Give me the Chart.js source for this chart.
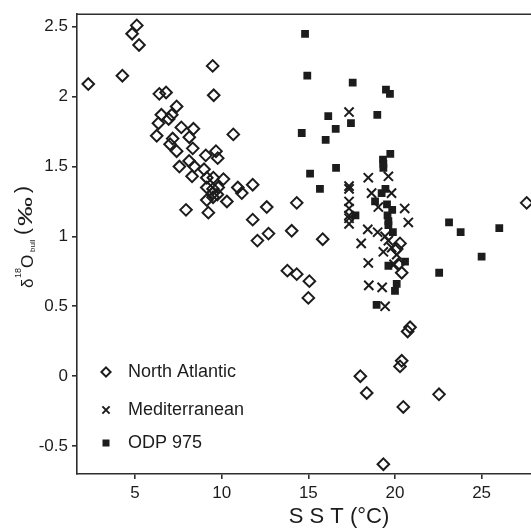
<!DOCTYPE html>
<html>
<head>
<meta charset="utf-8">
<script src="https://cdn.jsdelivr.net/npm/chart.js@4/dist/chart.umd.min.js"></script>
<style>
  html, body { margin: 0; padding: 0; background: #fff; }
  canvas { display: block; }
</style>
</head>
<body>
<canvas id="sst" width="531" height="529"></canvas>
<script>
// SST (°C) vs δ18O of bulk carbonate (‰)
const naSST = [2.3, 4.27, 5.1, 4.83, 5.23, 9.48, 9.54, 6.4, 6.79, 6.52, 6.35, 7.4, 7.12, 6.94, 6.25,
  7.67, 8.37, 8.13, 7.17, 7.02, 7.4, 8.33, 7.56, 8.12, 8.29, 8.42, 8.98, 9.08, 9.67, 9.77,
  9.14, 9.52, 10.1, 9.14, 9.5, 9.8, 9.5, 9.75, 9.14, 9.5, 10.3, 7.94, 9.23, 10.67, 10.93,
  11.16, 11.79, 11.79, 12.06, 12.6, 12.7, 14.33, 14.04, 15.83, 27.6, 20.29, 20.1, 20.39, 20.19,
  13.79, 14.33, 15.06, 15.0, 20.87, 20.73, 20.39, 20.29, 18.0, 18.37, 22.54, 20.48, 19.33];
const naD18O = [2.09, 2.15, 2.51, 2.45, 2.37, 2.22, 2.01, 2.02, 2.03, 1.87, 1.81, 1.93, 1.87, 1.84, 1.72,
  1.78, 1.77, 1.71, 1.70, 1.66, 1.61, 1.63, 1.50, 1.54, 1.43, 1.50, 1.48, 1.58, 1.61, 1.56,
  1.42, 1.42, 1.41, 1.35, 1.34, 1.35, 1.31, 1.30, 1.26, 1.28, 1.25, 1.19, 1.17, 1.73, 1.35,
  1.31, 1.37, 1.12, 0.97, 1.21, 1.02, 1.24, 1.04, 0.98, 1.24, 0.95, 0.91, 0.74, 0.80,
  0.755, 0.73, 0.68, 0.56, 0.35, 0.32, 0.11, 0.07, 0.0, -0.12, -0.13, -0.22, -0.63];

const medSST = [17.35, 18.46, 19.62, 17.35, 17.35, 18.65, 19.8, 17.35, 17.35, 17.35, 17.35, 17.35,
  19.04, 20.56, 20.77, 18.43, 19.0, 19.43, 19.62, 18.05, 19.81, 19.33, 20.1, 18.46, 19.95,
  18.49, 19.26, 19.43];
const medD18O = [1.89, 1.42, 1.43, 1.36, 1.34, 1.31, 1.31, 1.25, 1.20, 1.15, 1.13, 1.09,
  1.21, 1.20, 1.10, 1.05, 1.03, 1.00, 0.97, 0.95, 0.92, 0.89, 0.87, 0.81, 0.80,
  0.65, 0.635, 0.50];

const odpSST = [14.81, 14.94, 17.56, 19.48, 19.71, 16.15, 18.98, 17.46, 16.58, 14.62, 16.0, 19.73,
  19.31, 19.33, 19.33, 16.6, 15.1, 15.67, 19.45, 19.23, 18.85, 19.54, 19.84, 17.72, 19.57,
  19.62, 19.62, 19.88, 23.12, 23.79, 26.02, 25.0, 22.55, 20.58, 19.62, 20.1, 20.0, 18.94];
const odpD18O = [2.45, 2.15, 2.10, 2.05, 2.02, 1.86, 1.87, 1.81, 1.77, 1.74, 1.69, 1.59,
  1.55, 1.52, 1.49, 1.49, 1.45, 1.34, 1.34, 1.31, 1.25, 1.23, 1.19, 1.15, 1.15,
  1.11, 1.08, 1.03, 1.10, 1.03, 1.06, 0.855, 0.74, 0.82, 0.79, 0.66, 0.61, 0.51];

const seriesNames = ['North Atlantic', 'Mediterranean', 'ODP 975'];
const xTickValues = [5, 10, 15, 20, 25];
const yTickValues = [-0.5, 0, 0.5, 1, 1.5, 2, 2.5];

const INK = '#1c1c1c';
const AXIS = '#2e2e2e';
const FONT = '"Liberation Sans", Arial, Helvetica, sans-serif';

const toPoints = (xs, ys) => xs.map((x, i) => ({ x: x, y: ys[i] }));

// small marker shapes shared by the legend
function marker(ctx, kind, x, y, r) {
  ctx.save();
  ctx.strokeStyle = INK;
  ctx.fillStyle = INK;
  ctx.beginPath();
  if (kind === 'diamond') {
    ctx.lineWidth = 2;
    ctx.moveTo(x, y - r); ctx.lineTo(x + r, y); ctx.lineTo(x, y + r); ctx.lineTo(x - r, y);
    ctx.closePath();
    ctx.stroke();
  } else if (kind === 'cross') {
    ctx.lineWidth = 2;
    ctx.moveTo(x - r, y - r); ctx.lineTo(x + r, y + r);
    ctx.moveTo(x + r, y - r); ctx.lineTo(x - r, y + r);
    ctx.stroke();
  } else {
    ctx.fillRect(x - r, y - r, 2 * r, 2 * r);
  }
  ctx.restore();
}

const decorations = {
  id: 'decorations',
  afterDraw(chart) {
    const ctx = chart.ctx;
    const area = chart.chartArea;

    // top frame line
    ctx.save();
    ctx.strokeStyle = AXIS;
    ctx.lineWidth = 1.6;
    ctx.beginPath();
    ctx.moveTo(area.left, area.top);
    ctx.lineTo(area.right, area.top);
    ctx.stroke();
    ctx.restore();

    // legend in the lower left corner
    const kinds = ['diamond', 'cross', 'square'];
    const sizes = [4.6, 3.6, 3.5];
    const rows = [372, 410, 443];
    ctx.save();
    ctx.font = '18px ' + FONT;
    ctx.fillStyle = INK;
    ctx.textBaseline = 'middle';
    seriesNames.forEach((name, i) => {
      marker(ctx, kinds[i], 106, rows[i], sizes[i]);
      ctx.fillText(name, 128, rows[i]);
    });
    ctx.restore();

    // x axis title
    ctx.save();
    ctx.fillStyle = INK;
    ctx.font = '22px ' + FONT;
    ctx.textAlign = 'center';
    ctx.textBaseline = 'alphabetic';
    ctx.fillText('S S T (°C)', 339, 523);
    ctx.restore();

    // y axis title, built piece by piece for the super/subscripts
    ctx.save();
    ctx.translate(33, 288);
    ctx.rotate(-Math.PI / 2);
    ctx.fillStyle = INK;
    ctx.textBaseline = 'alphabetic';
    ctx.font = '17px ' + FONT;
    ctx.fillText('δ', 0, 0);
    ctx.font = '9px ' + FONT;
    ctx.fillText('18', 10, -12);
    ctx.font = '17px ' + FONT;
    ctx.fillText('O', 20, 0);
    ctx.font = '8px ' + FONT;
    ctx.fillText('bull', 36, 2);
    ctx.font = '21px ' + FONT;
    ctx.fillText('(', 53, -4);
    ctx.save();
    ctx.translate(62, -1);
    ctx.scale(1.45, 1);
    ctx.font = '20px ' + FONT;
    ctx.fillText('‰', 0, 0);
    ctx.restore();
    ctx.font = '21px ' + FONT;
    ctx.fillText(')', 95, -4);
    ctx.restore();
  }
};

const axisCommon = {
  type: 'linear',
  grid: { drawOnChartArea: false, drawTicks: true, tickLength: 5, color: AXIS, lineWidth: 1.6 },
  border: { display: true, color: AXIS, width: 1.6 },
};

new Chart(document.getElementById('sst'), {
  type: 'scatter',
  data: {
    datasets: [
      {
        label: seriesNames[0],
        data: toPoints(naSST, naD18O),
        pointStyle: 'rectRot',
        pointRadius: 5.8,
        borderWidth: 2,
        borderColor: INK,
        backgroundColor: 'rgba(0,0,0,0)'
      },
      {
        label: seriesNames[1],
        data: toPoints(medSST, medD18O),
        pointStyle: 'crossRot',
        pointRadius: 6.5,
        borderWidth: 2,
        borderColor: INK,
        backgroundColor: INK
      },
      {
        label: seriesNames[2],
        data: toPoints(odpSST, odpD18O),
        pointStyle: 'rect',
        pointRadius: 5.5,
        borderWidth: 0,
        borderColor: INK,
        backgroundColor: INK
      }
    ]
  },
  options: {
    responsive: false,
    animation: false,
    layout: { autoPadding: false, padding: { top: 13, right: 0, bottom: 0, left: 0 } },
    plugins: { legend: { display: false }, tooltip: { enabled: false } },
    scales: {
      x: Object.assign({}, axisCommon, {
        min: 1.65,
        max: 27.85,
        afterBuildTicks: s => { s.ticks = xTickValues.map(v => ({ value: v })); },
        afterFit: s => { s.height = 55; },
        ticks: { color: INK, font: { family: FONT, size: 17 }, padding: 4, callback: v => String(v) }
      }),
      y: Object.assign({}, axisCommon, {
        min: -0.7,
        max: 2.59,
        afterBuildTicks: s => { s.ticks = yTickValues.map(v => ({ value: v })); },
        afterFit: s => { s.width = 77; },
        ticks: { color: INK, font: { family: FONT, size: 17 }, padding: 4, callback: v => String(v) }
      })
    }
  },
  plugins: [decorations]
});
</script>
</body>
</html>
